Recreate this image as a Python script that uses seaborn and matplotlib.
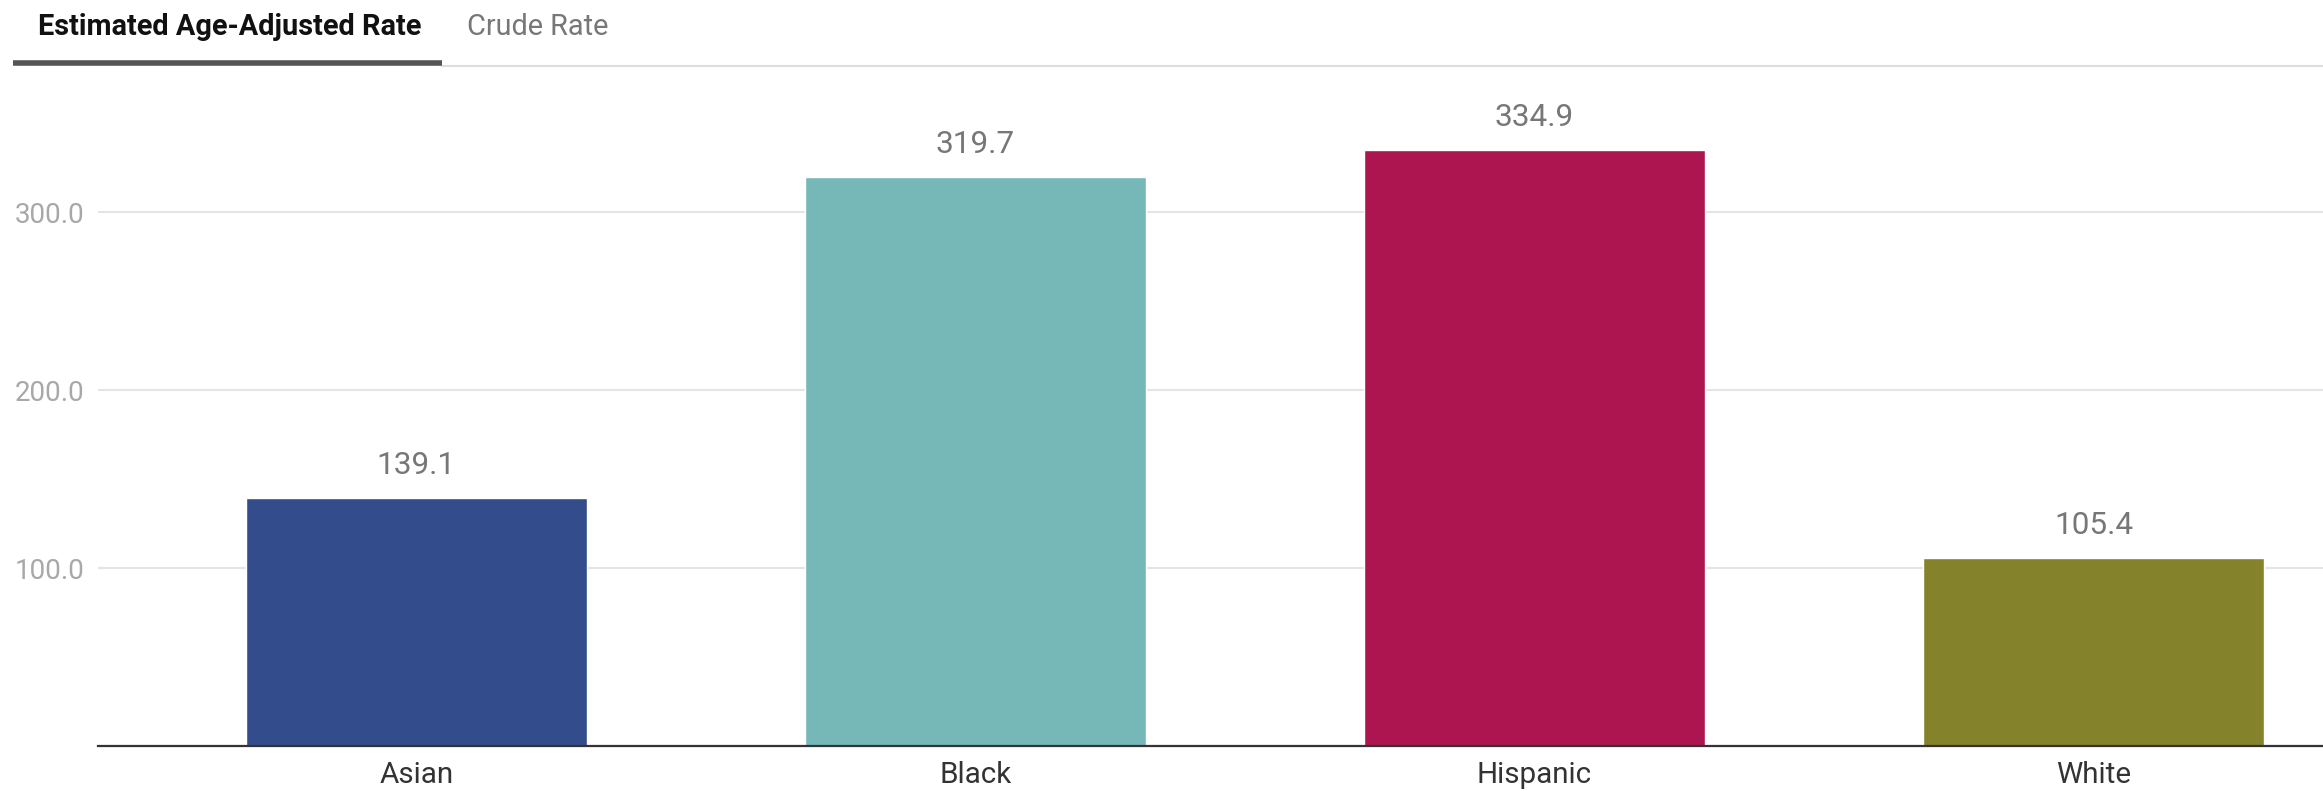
import matplotlib
matplotlib.use("Agg")
import matplotlib.pyplot as plt
from matplotlib.lines import Line2D
import seaborn as sns
import pandas as pd

# Estimated age-adjusted rate by race/ethnicity
groups = ["Asian", "Black", "Hispanic", "White"]
rates = [139.1, 319.7, 334.9, 105.4]
bar_colors = ["#334d8c", "#76b8b8", "#ad1550", "#84822a"]
y_ticks = [100, 200, 300]
tab_labels = ["Estimated Age-Adjusted Rate", "Crude Rate"]

sns.set_theme(style="white")
plt.rcParams["font.family"] = ["Roboto", "DejaVu Sans"]

W, H = 2323, 791
fig = plt.figure(figsize=(W / 100, H / 100), dpi=100)

# axes placed in pixel terms: left edge at x=98, baseline at y=746, top at y=80
ax = fig.add_axes([98 / W, (H - 746) / H, (W - 98) / W, (746 - 80) / H])

df = pd.DataFrame({"group": groups, "rate": rates})
sns.barplot(data=df, x="group", y="rate", hue="group", palette=bar_colors,
            legend=False, width=0.61, saturation=1, ax=ax)

ax.set_xlim(-0.569, 3.41)
ax.set_ylim(0, 374.2)
ax.set_yticks(y_ticks)
ax.set_yticklabels([f"{v:.1f}" for v in y_ticks])
ax.set_xlabel("")
ax.set_ylabel("")

ax.yaxis.grid(True, color="#e4e4e4", linewidth=1.5)
ax.set_axisbelow(True)
for side in ["top", "right", "left"]:
    ax.spines[side].set_visible(False)
ax.spines["bottom"].set_color("#333333")
ax.spines["bottom"].set_linewidth(1.6)

ax.tick_params(axis="y", length=0, pad=10, labelsize=20, labelcolor="#a8a8a8")
ax.tick_params(axis="x", length=0, pad=11, labelsize=21.3, labelcolor="#333333")

for container in ax.containers:
    ax.bar_label(container, fmt="%.1f", padding=13, fontsize=22.7, color="#777777")

# tab header above the chart
fig.text(38 / W, 1 - 35 / H, tab_labels[0], fontsize=20.8, fontweight="bold",
         color="#111111", ha="left", va="baseline")
fig.text(467 / W, 1 - 35 / H, tab_labels[1], fontsize=20.8, color="#777777",
         ha="left", va="baseline")
fig.add_artist(Line2D([442 / W, 1.0], [1 - 66 / H, 1 - 66 / H],
                      transform=fig.transFigure, color="#dddddd", linewidth=1.5))
fig.add_artist(Line2D([13 / W, 442 / W], [1 - 62.5 / H, 1 - 62.5 / H],
                      transform=fig.transFigure, color="#555555", linewidth=4,
                      solid_capstyle="butt"))

fig.savefig("out.png", dpi=100, facecolor="white")
